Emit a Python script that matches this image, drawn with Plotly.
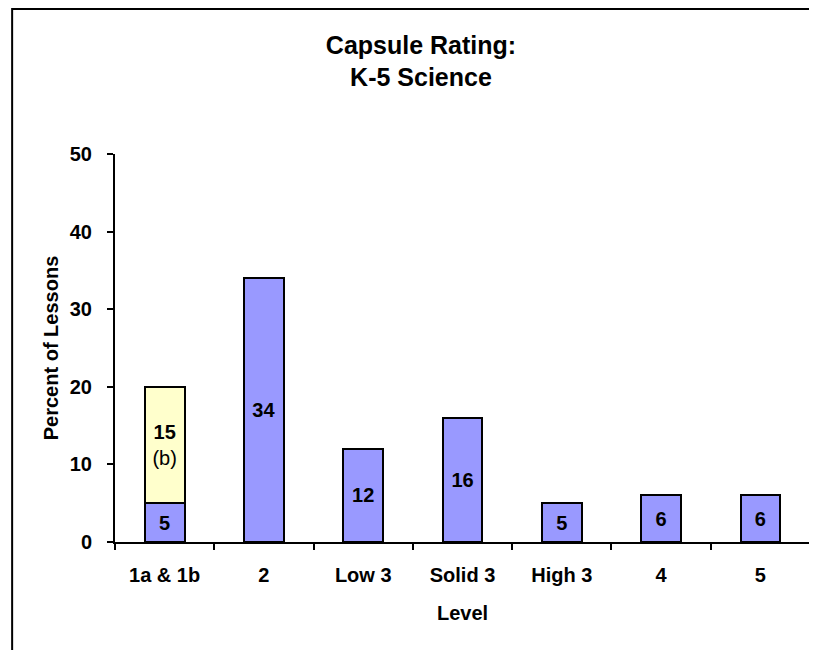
"""
Capsule rating bar chart: K-5 Science
"""

import plotly.graph_objects as go

# Chart data
levels = ['1a & 1b', '2', 'Low 3', 'Solid 3', 'High 3', '4', '5']
main_pct = [5, 34, 12, 16, 5, 6, 6]
extra_pct = [15, None, None, None, None, None, None]
extra_note = '(b)'

FONT = 'Liberation Sans, Arial, sans-serif'
BLUE = '#9999FF'
YELLOW = '#FFFFCC'

fig = go.Figure()

# Main (blue) bars
fig.add_trace(
    go.Bar(
        x=levels,
        y=main_pct,
        text=[f'<b>{v}</b>' for v in main_pct],
        textposition='inside',
        insidetextanchor='middle',
        constraintext='none',
        textfont=dict(family=FONT, size=20, color='black'),
        marker=dict(color=BLUE, line=dict(color='black', width=2)),
        width=0.4,
        hoverinfo='skip',
    )
)

# Stacked (yellow) part for 1a & 1b
fig.add_trace(
    go.Bar(
        x=levels,
        y=extra_pct,
        text=[f'<b>{v}</b><br>{extra_note}' if v else '' for v in extra_pct],
        textposition='inside',
        insidetextanchor='middle',
        constraintext='none',
        textfont=dict(family=FONT, size=20, color='black'),
        marker=dict(color=YELLOW, line=dict(color='black', width=2)),
        width=0.4,
        hoverinfo='skip',
    )
)

# Outer frame around the chart
fig.add_shape(
    type='rect', xref='paper', yref='paper',
    x0=-0.148, y0=-0.5, x1=1.3, y1=1.374,
    line=dict(color='black', width=2),
    fillcolor='rgba(0,0,0,0)',
    layer='below',
)

fig.update_layout(
    width=817,
    height=650,
    barmode='stack',
    showlegend=False,
    plot_bgcolor='white',
    paper_bgcolor='white',
    font=dict(family=FONT, color='black'),
    margin=dict(l=107, r=15, t=146, b=116),
    title=dict(
        text='<b>Capsule Rating:<br>K-5 Science</b>',
        x=0.5055, xanchor='center',
        y=0.93, yanchor='top',
        font=dict(family=FONT, size=25, color='black'),
    ),
    uniformtext=dict(mode=False),
)

fig.update_xaxes(
    title=dict(text='<b>Level</b>', font=dict(family=FONT, size=20), standoff=21),
    tickfont=dict(family=FONT, size=20, weight='bold'),
    ticklabelstandoff=14,
    showline=True, linecolor='black', linewidth=2,
    ticks='outside', tickson='boundaries', ticklen=6, tickwidth=2, tickcolor='black',
    showgrid=False,
)

fig.update_yaxes(
    title=dict(text='<b>Percent of Lessons</b>', font=dict(family=FONT, size=20), standoff=6),
    range=[0, 50],
    tickvals=[0, 10, 20, 30, 40, 50],
    tickfont=dict(family=FONT, size=20, weight='bold'),
    ticklabelstandoff=11,
    showline=True, linecolor='black', linewidth=2,
    ticks='outside', ticklen=6, tickwidth=2, tickcolor='black',
    showgrid=False, zeroline=False,
)

fig.write_html('out.html')
